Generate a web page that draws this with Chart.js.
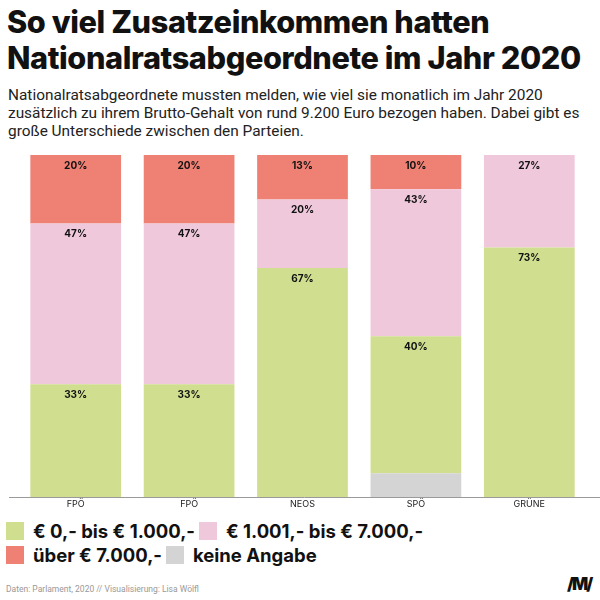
<!DOCTYPE html>
<html>
<head>
<meta charset="utf-8">
<script src="https://cdn.jsdelivr.net/npm/chart.js@4.4.1/dist/chart.umd.min.js"></script>
<style>
  html, body { margin:0; padding:0; background:#fff; }
  body { width:600px; height:600px; position:relative; overflow:hidden; font-family:Roboto, sans-serif; color:#111; }
  #title { position:absolute; left:7px; top:4px; font-family:Inter, sans-serif; font-weight:800; font-size:30.7px; line-height:36px; letter-spacing:-0.4px; }
  #sub { position:absolute; left:8px; top:86px; font-size:15.4px; line-height:18px; color:#222; }
  #wrap { position:absolute; left:0; top:150px; width:600px; height:362px; }
  #legend { position:absolute; left:6px; top:520px; width:594px; font-family:Inter, sans-serif; }
  .li { display:inline-flex; align-items:center; height:22px; margin-right:4px; font-weight:700; font-size:18.5px; line-height:22px; }
  .sw { width:18px; height:18px; margin-right:9px; display:inline-block; }
  #foot { position:absolute; left:6px; top:584px; font-size:8.5px; line-height:10px; color:#999; }
  #logo { position:absolute; left:567px; top:575px; font-family:Inter, sans-serif; font-weight:900; font-size:17px; line-height:18px; letter-spacing:-2px; }
</style>
</head>
<body>
<div id="title">So viel Zusatzeinkommen hatten<br>Nationalratsabgeordnete im Jahr 2020</div>
<div id="sub">Nationalratsabgeordnete mussten melden, wie viel sie monatlich im Jahr 2020<br>zusätzlich zu ihrem Brutto-Gehalt von rund 9.200 Euro bezogen haben. Dabei gibt es<br>große Unterschiede zwischen den Parteien.</div>
<div id="wrap"><canvas id="cnv" width="600" height="362"></canvas></div>
<div id="legend"></div>
<div id="foot">Daten: Parlament, 2020 // Visualisierung: Lisa Wölfl</div>
<div id="logo">/M/</div>
<script>
// ---- data ----
const parties   = ['FPÖ', 'FPÖ', 'NEOS', 'SPÖ', 'GRÜNE'];
const keineAng  = [0, 0, 0, 7, 0];
const bis1000   = [33, 33, 67, 40, 73];
const bis7000   = [47, 47, 20, 43, 27];
const ueber7000 = [20, 20, 13, 10, 0];

const seriesNames = ['keine Angabe', '€ 0,- bis € 1.000,-', '€ 1.001,- bis € 7.000,-', 'über € 7.000,-'];
const colors      = ['#d4d4d4', '#d0de8f', '#f0c8dc', '#ef8074'];
const legendOrder = [1, 2, 3, 0];

const allSeries = [keineAng, bis1000, bis7000, ueber7000];

// ---- legend (html) ----
const leg = document.getElementById('legend');
legendOrder.forEach((i, n) => {
  const el = document.createElement('span');
  el.className = 'li';
  el.innerHTML = `<span class="sw" style="background:${colors[i]}"></span>${seriesNames[i]}`;
  leg.appendChild(el);
  if (n === 1) leg.appendChild(document.createElement('br'));
});

// ---- percent labels on top of each segment + wide base line ----
const segLabels = {
  id: 'segLabels',
  afterDatasetsDraw(chart) {
    const ctx = chart.ctx;
    ctx.save();
    ctx.font = 'bold 10px Inter, sans-serif';
    ctx.fillStyle = '#111';
    ctx.textAlign = 'center';
    ctx.textBaseline = 'middle';
    chart.data.datasets.forEach((ds, di) => {
      if (di === 0) return; // no label on grey
      chart.getDatasetMeta(di).data.forEach((bar, i) => {
        const v = ds.data[i];
        if (!v) return;
        ctx.fillText(v + '%', bar.x, bar.y + 11);
      });
    });
    // base line runs wider than the bars
    const yb = Math.round(chart.chartArea.bottom) + 0.5;
    ctx.strokeStyle = '#9a9a9a';
    ctx.lineWidth = 1;
    ctx.beginPath();
    ctx.moveTo(9, yb);
    ctx.lineTo(600, yb);
    ctx.stroke();
    ctx.restore();
  }
};

new Chart('cnv', {
  type: 'bar',
  data: {
    labels: parties,
    datasets: allSeries.map((d, i) => ({
      label: seriesNames[i],
      data: d,
      backgroundColor: colors[i],
      borderWidth: 0,
      categoryPercentage: 0.8,
      barPercentage: 1
    }))
  },
  options: {
    responsive: false,
    animation: false,
    layout: { padding: { top: 5, left: 19, right: 14, bottom: 0 } },
    plugins: { legend: { display: false }, tooltip: { enabled: false } },
    scales: {
      x: {
        stacked: true,
        grid: { display: false, drawTicks: false },
        border: { display: false },
        ticks: { color: '#222', font: { family: 'Inter', size: 9 }, padding: 2 }
      },
      y: { stacked: true, min: 0, max: 100, display: false }
    }
  },
  plugins: [segLabels]
});
</script>
</body>
</html>
